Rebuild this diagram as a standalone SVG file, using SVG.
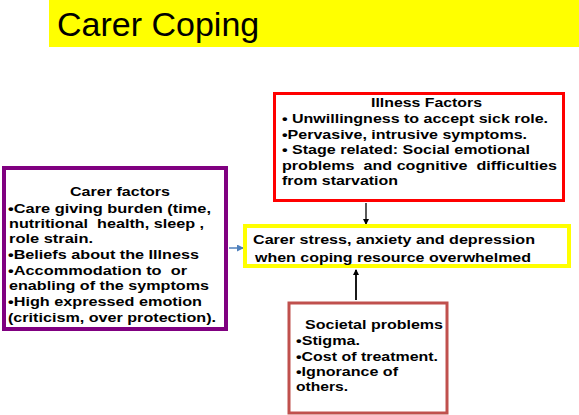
<svg xmlns="http://www.w3.org/2000/svg" width="579" height="415" viewBox="0 0 579 415">
<defs>
<style>
.t{font-family:"Liberation Sans",Arial,sans-serif;font-weight:bold;font-size:13px;fill:#000;white-space:pre}
.box{fill:#fff}
</style>
<marker id="ah" markerWidth="6" markerHeight="6" refX="5" refY="3" orient="auto" markerUnits="userSpaceOnUse">
<path d="M0,0 L6,3 L0,6 z" fill="#000"/>
</marker>
<marker id="ahb" markerWidth="7" markerHeight="7" refX="6" refY="3.5" orient="auto" markerUnits="userSpaceOnUse">
<path d="M0,0 L7,3.5 L0,7 z" fill="#4F81BD"/>
</marker>
</defs>
<rect width="579" height="415" fill="#fff"/>
<g id="title">
<rect x="49" y="0" width="530" height="47" fill="#FFFF00"/>
<text x="57" y="36" font-family="Liberation Sans, Arial, sans-serif" font-size="34" fill="#000">Carer Coping</text>
</g>
<g id="connectors">
<line x1="366" y1="203" x2="366" y2="224" stroke="#000" stroke-width="1.3" marker-end="url(#ah)"/>
<line x1="356" y1="300" x2="356" y2="270" stroke="#000" stroke-width="1.8" marker-end="url(#ah)"/>
<line x1="229" y1="248" x2="243" y2="248" stroke="#4F81BD" stroke-width="1.5" marker-end="url(#ahb)"/>
</g>
<g id="carer-factors">
<rect class="box" x="4" y="168" width="222" height="161" stroke="#800080" stroke-width="4"/>
<text class="t" x="70" y="196" textLength="100" lengthAdjust="spacingAndGlyphs">Carer factors</text>
<text class="t" x="8" y="213" textLength="203" lengthAdjust="spacingAndGlyphs">•Care giving burden (time,</text>
<text class="t" x="9" y="228" textLength="195" lengthAdjust="spacingAndGlyphs">nutritional  health, sleep ,</text>
<text class="t" x="9" y="243" textLength="84" lengthAdjust="spacingAndGlyphs">role strain.</text>
<text class="t" x="8" y="259" textLength="191" lengthAdjust="spacingAndGlyphs">•Beliefs about the Illness</text>
<text class="t" x="8" y="275" textLength="179" lengthAdjust="spacingAndGlyphs">•Accommodation to  or</text>
<text class="t" x="9" y="290" textLength="200" lengthAdjust="spacingAndGlyphs">enabling of the symptoms</text>
<text class="t" x="8" y="306" textLength="194" lengthAdjust="spacingAndGlyphs">•High expressed emotion</text>
<text class="t" x="8" y="322" textLength="208" lengthAdjust="spacingAndGlyphs">(criticism, over protection).</text>
</g>
<g id="illness-factors">
<rect class="box" x="274.5" y="93.5" width="289" height="107" stroke="#FF0000" stroke-width="3"/>
<text class="t" x="371" y="107" textLength="111" lengthAdjust="spacingAndGlyphs">Illness Factors</text>
<text class="t" x="282" y="123" textLength="266" lengthAdjust="spacingAndGlyphs">• Unwillingness to accept sick role.</text>
<text class="t" x="282" y="139" textLength="245" lengthAdjust="spacingAndGlyphs">•Pervasive, intrusive symptoms.</text>
<text class="t" x="282" y="154" textLength="248" lengthAdjust="spacingAndGlyphs">• Stage related: Social emotional</text>
<text class="t" x="282" y="170" textLength="275" lengthAdjust="spacingAndGlyphs">problems  and cognitive  difficulties</text>
<text class="t" x="282" y="185" textLength="116" lengthAdjust="spacingAndGlyphs">from starvation</text>
</g>
<g id="carer-stress">
<rect class="box" x="245" y="226" width="324" height="40" stroke="#FFFF00" stroke-width="4"/>
<text class="t" x="253" y="244" textLength="282" lengthAdjust="spacingAndGlyphs">Carer stress, anxiety and depression</text>
<text class="t" x="255" y="262" textLength="276" lengthAdjust="spacingAndGlyphs">when coping resource overwhelmed</text>
</g>
<g id="societal-problems">
<rect class="box" x="289" y="303" width="158" height="110" stroke="#C0504D" stroke-width="3"/>
<text class="t" x="305" y="329" textLength="138" lengthAdjust="spacingAndGlyphs">Societal problems</text>
<text class="t" x="296" y="345" textLength="64" lengthAdjust="spacingAndGlyphs">•Stigma.</text>
<text class="t" x="296" y="361" textLength="142" lengthAdjust="spacingAndGlyphs">•Cost of treatment.</text>
<text class="t" x="296" y="376" textLength="102" lengthAdjust="spacingAndGlyphs">•Ignorance of</text>
<text class="t" x="296" y="391" textLength="52" lengthAdjust="spacingAndGlyphs">others.</text>
</g>
</svg>
